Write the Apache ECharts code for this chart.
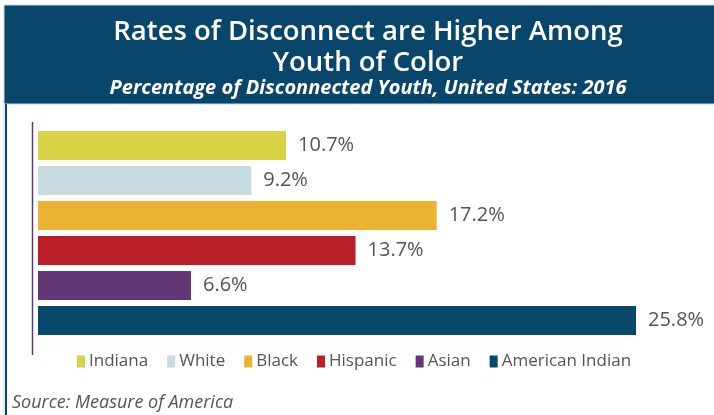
<!DOCTYPE html>
<html>
<head>
<meta charset="utf-8">
<script src="https://cdn.jsdelivr.net/npm/echarts@6/dist/echarts.min.js"></script>
<style>
html,body{margin:0;padding:0;background:#fff;}
#chart{width:714px;height:415px;}
</style>
</head>
<body>
<div id="chart"></div>
<script>
const categories = ['Indiana', 'White', 'Black', 'Hispanic', 'Asian', 'American Indian'];
const values = [10.7, 9.2, 17.2, 13.7, 6.6, 25.8];
const colors = ['#d8d247', '#c8dbe1', '#eab333', '#ba1f28', '#633776', '#07476a'];
const titleLines = ['Rates of Disconnect are Higher Among', 'Youth of Color'];
const subtitle = 'Percentage of Disconnected Youth, United States: 2016';
const source = 'Source: Measure of America';

const FONT = "'Open Sans', 'DejaVu Sans', sans-serif";
const chart = echarts.init(document.getElementById('chart'), null, {renderer: 'canvas'});

const series = categories.map((name, i) => ({
  name: name,
  type: 'bar',
  stack: 'all',
  barCategoryGap: '17%',
  itemStyle: {color: colors[i]},
  label: {
    show: true,
    position: 'right',
    distance: 12,
    fontFamily: FONT,
    fontSize: 20,
    color: '#555555',
    formatter: p => p.value.toFixed(1) + '%'
  },
  data: values.map((v, j) => (j === i ? v : '-'))
}));

chart.setOption({
  backgroundColor: '#ffffff',
  animation: false,
  grid: {left: 38, top: 128, width: 598, height: 210, containLabel: false},
  xAxis: {
    type: 'value', min: 0, max: 25.8, show: false
  },
  yAxis: {
    type: 'category', data: categories, inverse: true,
    axisLine: {show: false}, axisTick: {show: false}, axisLabel: {show: false}
  },
  legend: {
    data: categories,
    left: 72, top: 348,
    icon: 'rect',
    itemWidth: 8, itemHeight: 12,
    itemGap: 19,
    textStyle: {fontFamily: FONT, fontSize: 17, color: '#555555', padding: [0, 0, 0, -1]}
  },
  graphic: [
    {type: 'rect', shape: {x: 4, y: 5, width: 712, height: 99}, style: {fill: '#08466b', stroke: '#c6d9e3', lineWidth: 1}, silent: true, z: -10},
    {type: 'rect', shape: {x: 5, y: 104, width: 2, height: 313}, style: {fill: '#08466b'}, silent: true, z: -10},
    {type: 'line', shape: {x1: 4, y1: 104, x2: 4, y2: 415}, style: {stroke: '#c6d9e3', lineWidth: 1}, silent: true},
    {type: 'line', shape: {x1: 32.5, y1: 122, x2: 32.5, y2: 355}, style: {stroke: '#62367a', lineWidth: 1.5}, silent: true},
    {type: 'text', x: 368, y: 32, style: {text: titleLines[0], fill: '#ffffff', font: "600 27.5px " + FONT, align: 'center', verticalAlign: 'middle'}},
    {type: 'text', x: 368, y: 63, style: {text: titleLines[1], fill: '#ffffff', font: "600 27.5px " + FONT, align: 'center', verticalAlign: 'middle'}},
    {type: 'text', x: 368, y: 88, style: {text: subtitle, fill: '#ffffff', font: "italic 700 20px " + FONT, align: 'center', verticalAlign: 'middle'}},
    {type: 'text', x: 12, y: 403, style: {text: source, fill: '#555555', font: "italic 18px " + FONT, align: 'left', verticalAlign: 'middle'}}
  ],
  series: series
});
</script>
</body>
</html>
